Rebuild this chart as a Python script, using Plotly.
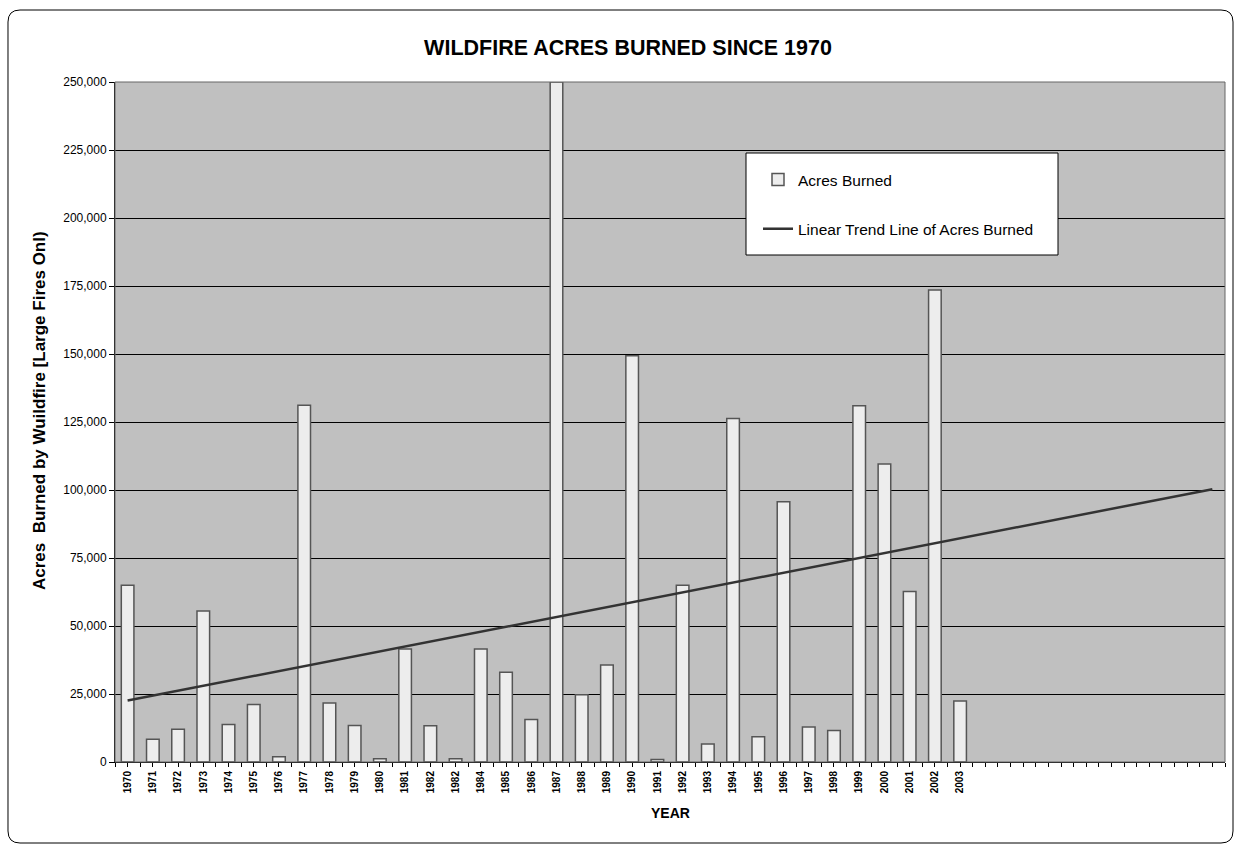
import plotly.graph_objects as go

# Category labels (the second "1982" is as printed on the axis)
years = ["1970", "1971", "1972", "1973", "1974", "1975", "1976", "1977", "1978",
         "1979", "1980", "1981", "1982", "1982", "1984", "1985", "1986", "1987",
         "1988", "1989", "1990", "1991", "1992", "1993", "1994", "1995", "1996",
         "1997", "1998", "1999", "2000", "2001", "2002", "2003"]

acres_burned = [65000, 8400, 12000, 55500, 13800, 21100, 1900, 131200, 21700,
                13400, 1200, 41500, 13300, 1200, 41500, 33000, 15600, 250000,
                24700, 35700, 149400, 900, 65000, 6600, 126300, 9300, 95700,
                12900, 11600, 131000, 109600, 62700, 173500, 22400]

# Empty categories kept on the axis after the last year
n_empty = 10

# Linear trend line end points (first and last category)
trend_values = [22600, 100300]

n_cat = len(years) + n_empty
cat_idx = list(range(len(years)))
all_idx = list(range(n_cat))

W, H = 1241, 849
ML, MR, MT, MB = 115, 16, 82, 87
PW, PH = W - ML - MR, H - MT - MB

FONT = "Arial, Liberation Sans, sans-serif"


def px_to_paper(x, y):
    return (x - ML) / PW, (H - MB - y) / PH


def rounded_rect(x0, y0, x1, y1, r):
    def P(x, y):
        px, py = px_to_paper(x, y)
        return f"{px:.5f},{py:.5f}"
    pts = [
        "M" + P(x0 + r, y0),
        "L" + P(x1 - r, y0),
        "Q" + P(x1, y0) + " " + P(x1, y0 + r),
        "L" + P(x1, y1 - r),
        "Q" + P(x1, y1) + " " + P(x1 - r, y1),
        "L" + P(x0 + r, y1),
        "Q" + P(x0, y1) + " " + P(x0, y1 - r),
        "L" + P(x0, y0 + r),
        "Q" + P(x0, y0) + " " + P(x0 + r, y0),
        "Z",
    ]
    return " ".join(pts)


fig = go.Figure()

fig.add_trace(go.Bar(
    x=cat_idx, y=acres_burned, width=0.5, name="Acres Burned",
    marker=dict(color="#EDEDED", line=dict(color="#555555", width=1.5)),
    legendgroup="a",
))

fig.add_trace(go.Scatter(
    x=[0, n_cat - 1], y=trend_values, mode="lines",
    name="Linear Trend Line of Acres Burned",
    line=dict(color="#333333", width=2.5),
    legendgroup="b",
))

# Legend box
lx0, ly0 = px_to_paper(746, 153)
lx1, ly1 = px_to_paper(1058, 255)

shapes = [
    dict(type="rect", xref="paper", yref="paper", x0=0, x1=1, y0=0, y1=1,
         line=dict(color="#666666", width=1), fillcolor="rgba(0,0,0,0)", layer="above"),
    dict(type="rect", xref="paper", yref="paper", x0=lx0, x1=lx1, y0=ly1, y1=ly0,
         line=dict(color="black", width=1), fillcolor="white", layer="above"),
    dict(type="path", xref="paper", yref="paper", path=rounded_rect(8, 10, 1233, 843, 12),
         line=dict(color="black", width=1), fillcolor="rgba(0,0,0,0)", layer="above"),
]

ticktext = [f"<b>{y}</b>" for y in years] + [""] * n_empty

fig.update_layout(
    width=W, height=H,
    margin=dict(l=ML, r=MR, t=MT, b=MB),
    paper_bgcolor="white",
    plot_bgcolor="#C0C0C0",
    font=dict(family=FONT, color="black"),
    title=dict(text="<b>WILDFIRE ACRES BURNED SINCE 1970</b>", x=628 / W, xanchor="center",
               y=1 - 47 / H, yanchor="middle", font=dict(size=21.5, family=FONT, color="black")),
    showlegend=True,
    legend=dict(x=(758 - ML) / PW, y=px_to_paper(0, 163)[1], xanchor="left", yanchor="top",
                bgcolor="rgba(0,0,0,0)", borderwidth=0, traceorder="grouped",
                tracegroupgap=26, font=dict(size=15.5, family=FONT, color="black")),
    bargap=0.5,
    shapes=shapes,
    xaxis=dict(
        range=[-0.5, n_cat - 0.5], tickmode="array", tickvals=all_idx, ticktext=ticktext,
        tickangle=-90, tickfont=dict(size=10, family=FONT, color="black"),
        ticks="outside", ticklen=4, tickcolor="black", showgrid=False,
        showline=True, linecolor="black", linewidth=1, zeroline=False,
        minor=dict(tickmode="array", tickvals=[i - 0.5 for i in range(n_cat + 1)],
                   ticks="outside", ticklen=4, tickcolor="black"),
    ),
    yaxis=dict(
        range=[0, 250000], tickmode="linear", tick0=0, dtick=25000, tickformat=",",
        tickfont=dict(size=12, family=FONT, color="black"),
        ticks="outside", ticklen=5, tickcolor="black",
        showgrid=True, gridcolor="black", gridwidth=1,
        showline=True, linecolor="black", linewidth=1, zeroline=False,
    ),
    annotations=[
        dict(text="<b>YEAR</b>", xref="paper", yref="paper",
             x=px_to_paper(670, 0)[0], y=px_to_paper(0, 813)[1],
             showarrow=False, xanchor="center", yanchor="middle",
             font=dict(size=14, family=FONT, color="black")),
        dict(text="<b>Acres  Burned by Wuildfire [Large Fires Onl)</b>", xref="paper", yref="paper",
             x=px_to_paper(40, 0)[0], y=px_to_paper(0, 411)[1], textangle=-90,
             showarrow=False, xanchor="center", yanchor="middle",
             font=dict(size=17, family=FONT, color="black")),
    ],
)

fig.write_html("out.html")
